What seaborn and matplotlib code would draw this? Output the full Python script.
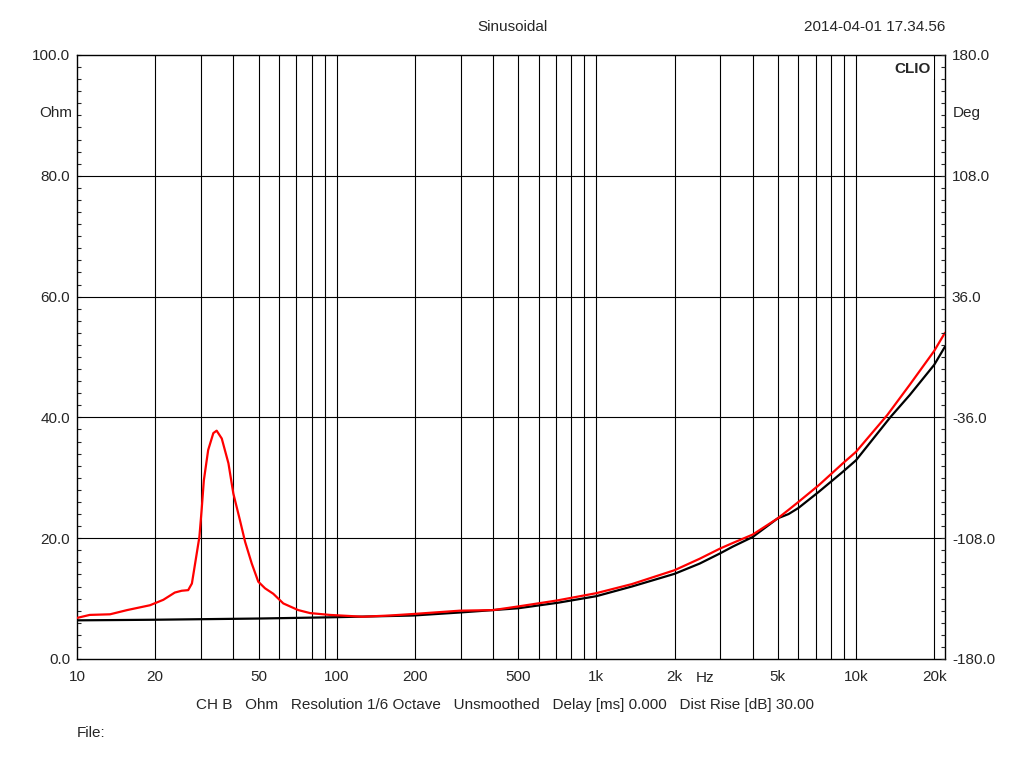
"""
CLIO impedance sweep (Sinusoidal) - reproduction with seaborn.
"""
import numpy as np
import pandas as pd
import matplotlib
matplotlib.use("Agg")
import matplotlib.pyplot as plt
from matplotlib.ticker import FixedLocator, MultipleLocator, NullFormatter
import seaborn as sns

# Red curve (impedance, Ohm)
red_freq = [10, 11.2, 13.4, 15.6, 19.1, 21.5, 23.8, 25.3, 26.8, 27.7, 28.5, 29.6,
            30.2, 30.8, 32.0, 33.5, 34.5, 36.1, 38.3, 40.0, 42.4, 44.4, 47.1,
            49.9, 53.0, 57.0, 62.3, 71.1, 79, 94, 126, 160, 197, 298, 401, 500,
            708, 1000, 1370, 2000, 2500, 3000, 3350, 4000, 5000, 5500, 6000,
            7200, 8900, 10000, 13200, 16100, 20000, 22000]
red_ohm = [6.8, 7.3, 7.4, 8.1, 8.9, 9.8, 11.0, 11.3, 11.4, 12.5, 15.8, 20.2,
           24.7, 29.6, 34.6, 37.4, 37.8, 36.5, 32.4, 27.4, 23.0, 19.4, 15.8,
           12.8, 11.7, 10.8, 9.2, 8.1, 7.6, 7.3, 7.0, 7.2, 7.45, 8.0, 8.1, 8.7,
           9.7, 10.9, 12.4, 14.7, 16.6, 18.3, 19.2, 20.6, 23.3, 24.7, 26.0,
           28.8, 32.4, 34.3, 40.4, 45.4, 51.0, 54.0]

# Black curve (impedance, Ohm)
black_freq = [10, 20, 50, 94, 197, 298, 500, 708, 1000, 1370, 2000, 2500, 3000,
              3350, 4000, 5000, 5500, 6000, 7200, 8900, 10000, 13600, 16100,
              20000, 22000]
black_ohm = [6.4, 6.5, 6.7, 6.9, 7.2, 7.7, 8.4, 9.3, 10.4, 12.0, 14.1, 15.8, 17.5,
             18.6, 20.2, 23.3, 24.0, 25.0, 27.7, 31.0, 32.9, 40.1, 43.7, 48.7,
             51.7]

x_ticks = [10, 20, 50, 100, 200, 500, 1000, 2000, 5000, 10000, 20000]
x_labels = ["10", "20", "50", "100", "200", "500", "1k", "2k", "5k", "10k", "20k"]
y_ticks = [0, 20, 40, 60, 80, 100]
deg_ticks = [-180, -108, -36, 36, 108, 180]

FS = 11

sns.set_style("white")
plt.rcParams["font.family"] = ["Liberation Sans", "DejaVu Sans"]
plt.rcParams["font.size"] = FS

df_red = pd.DataFrame({"freq": red_freq, "ohm": red_ohm})
df_black = pd.DataFrame({"freq": black_freq, "ohm": black_ohm})

fig = plt.figure(figsize=(10.24, 7.68), dpi=100)
ax = fig.add_axes([77 / 1024, 1 - 659 / 768, 868 / 1024, 604 / 768])
ax.set_xscale("log")
ax.set_xlim(10, 10 ** (4 + 89 / 259.7))
ax.set_ylim(0, 100)

# grid: every 1..9 per decade, horizontal every 20 Ohm
grid_x = [m * 10 ** d for d in range(1, 5) for m in range(1, 10)]
for gx in grid_x:
    if 10 < gx < 22000:
        ax.axvline(gx, color="black", lw=0.8, zorder=1)
for gy in y_ticks[1:-1]:
    ax.axhline(gy, color="black", lw=0.8, zorder=1)

sns.lineplot(data=df_black, x="freq", y="ohm", ax=ax, color="black", lw=1.6,
             zorder=3)
sns.lineplot(data=df_red, x="freq", y="ohm", ax=ax, color="#ff0000", lw=1.6,
             zorder=4)

ax.xaxis.set_major_locator(FixedLocator(x_ticks))
ax.xaxis.set_minor_formatter(NullFormatter())
ax.xaxis.set_minor_locator(FixedLocator([]))
ax.set_xticklabels(x_labels)
ax.set_yticks(y_ticks)
ax.set_yticklabels([f"{v:.1f}" for v in y_ticks])
ax.yaxis.set_minor_locator(MultipleLocator(2))
ax.tick_params(axis="x", length=0, pad=8, labelsize=FS)
ax.tick_params(axis="y", which="both", direction="in", length=3, width=0.8,
               pad=5, labelsize=FS)
ax.set_xlabel("")
ax.set_ylabel("")
for sp in ax.spines.values():
    sp.set_color("black")
    sp.set_linewidth(1.0)

ax2 = ax.twinx()
ax2.set_ylim(-180, 180)
ax2.set_yticks(deg_ticks)
ax2.set_yticklabels([f"{v:.1f}" for v in deg_ticks])
ax2.yaxis.set_minor_locator(MultipleLocator(7.2))
ax2.tick_params(axis="y", which="both", direction="in", length=3, width=0.8,
                pad=5, labelsize=FS)
for sp in ax2.spines.values():
    sp.set_visible(False)

# texts
fig.text(512 / 1024, 1 - 27 / 768, "Sinusoidal", ha="center", va="center",
         fontsize=FS)
fig.text(945 / 1024, 1 - 27 / 768, "2014-04-01 17.34.56", ha="right",
         va="center", fontsize=FS)
fig.text(56 / 1024, 1 - 113 / 768, "Ohm", ha="center", va="center",
         fontsize=FS)
fig.text(967 / 1024, 1 - 113 / 768, "Deg", ha="center", va="center",
         fontsize=FS)
fig.text(705 / 1024, 1 - 678 / 768, "Hz", ha="center", va="center",
         fontsize=FS)
fig.text(505 / 1024, 1 - 705 / 768,
         "CH B   Ohm   Resolution 1/6 Octave   Unsmoothed   Delay [ms] 0.000"
         "   Dist Rise [dB] 30.00",
         ha="center", va="center", fontsize=FS)
fig.text(77 / 1024, 1 - 733 / 768, "File:", ha="left", va="center",
         fontsize=FS)
ax.text(0.9835, 0.977, "CLIO", transform=ax.transAxes, ha="right", va="center",
        fontsize=FS, fontweight="bold", zorder=6,
        bbox=dict(facecolor="white", edgecolor="none", pad=2.5))

fig.savefig("out.png", dpi=100)
